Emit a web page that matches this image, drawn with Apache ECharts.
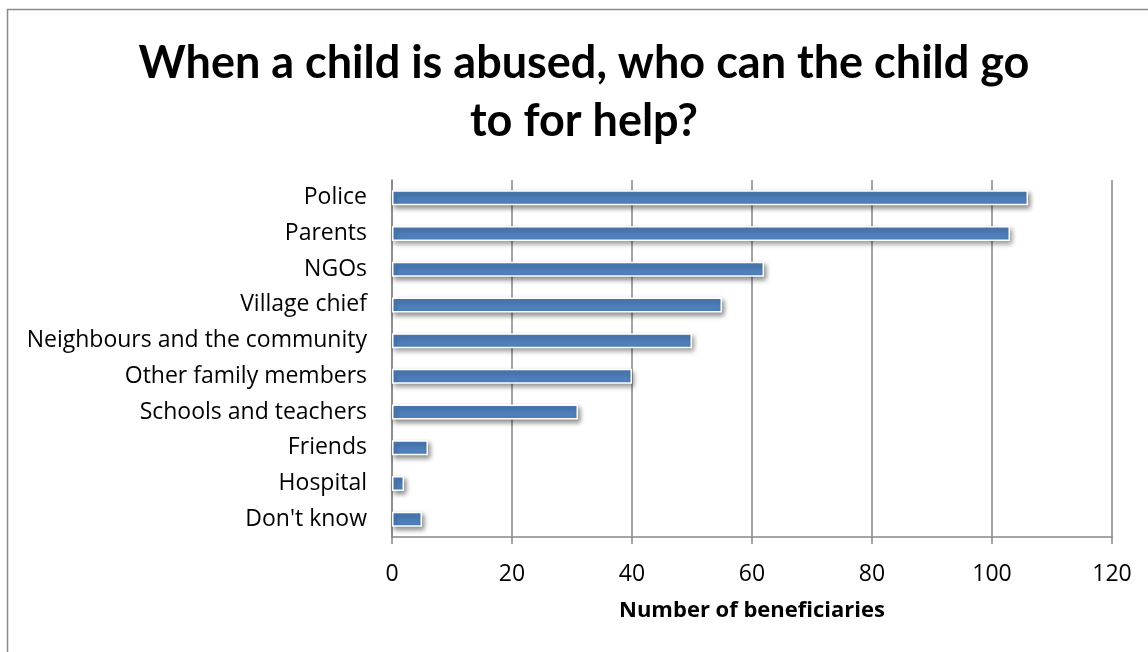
<!DOCTYPE html>
<html>
<head>
<meta charset="utf-8">
<script src="https://cdn.jsdelivr.net/npm/echarts@6/dist/echarts.min.js"></script>
<style>
  html, body { margin: 0; padding: 0; background: #fff; }
  #chart { width: 1148px; height: 652px; }
</style>
</head>
<body>
<div id="chart"></div>
<script>
// Who children can turn to for help (number of beneficiaries)
const categories = [
  'Police', 'Parents', 'NGOs', 'Village chief', 'Neighbours and the community',
  'Other family members', 'Schools and teachers', 'Friends', 'Hospital', "Don't know"
];
const beneficiaries = [106, 103, 62, 55, 50, 40, 31, 6, 2, 5];
const xTicks = [0, 20, 40, 60, 80, 100, 120];

const titleFont = 'Lato, "Open Sans", sans-serif';
const font = '"Open Sans", Lato, sans-serif';
const gridGray = '#868686';

const chart = echarts.init(document.getElementById('chart'));
chart.setOption({
  animation: false,
  backgroundColor: '#fff',
  title: {
    text: 'When a child is abused, who can the child go\nto for help?',
    left: 579,
    top: 29,
    textAlign: 'center',
    textStyle: {
      fontFamily: titleFont,
      fontWeight: 'bold',
      fontSize: 45,
      lineHeight: 58,
      color: '#000'
    }
  },
  graphic: [{
    type: 'rect',
    shape: { x: 7.5, y: 9.5, width: 1200, height: 700 },
    style: { fill: 'none', stroke: '#8c8c8c', lineWidth: 1.5 },
    silent: true
  }],
  grid: { left: 392, right: 36, top: 180, bottom: 115, containLabel: false },
  xAxis: {
    type: 'value',
    min: xTicks[0],
    max: xTicks[xTicks.length - 1],
    interval: 20,
    name: 'Number of beneficiaries',
    nameLocation: 'middle',
    nameGap: 63,
    nameTextStyle: { fontFamily: font, fontWeight: 'bold', fontSize: 22, color: '#000' },
    axisLine: { show: true, lineStyle: { color: gridGray, width: 1.5 } },
    axisTick: { show: true, length: 7, lineStyle: { color: gridGray, width: 1.5 } },
    axisLabel: {
      fontFamily: font, fontSize: 23, color: '#000', margin: 26,
      formatter: v => xTicks.includes(v) ? String(v) : ''
    },
    splitLine: { show: true, lineStyle: { color: gridGray, width: 1.5 } }
  },
  yAxis: {
    type: 'category',
    data: categories,
    inverse: true,
    axisLine: { show: true, lineStyle: { color: gridGray, width: 1.5 } },
    axisTick: { show: false },
    axisLabel: { fontFamily: font, fontSize: 23, color: '#000', margin: 25 }
  },
  series: [{
    type: 'bar',
    data: beneficiaries,
    barWidth: 15,
    itemStyle: {
      color: '#4f81bd',
      borderColor: '#ffffff',
      borderWidth: 1.5,
      shadowColor: 'rgba(0,0,0,0.45)',
      shadowBlur: 5,
      shadowOffsetX: 2,
      shadowOffsetY: 3
    }
  }]
});
</script>
</body>
</html>
